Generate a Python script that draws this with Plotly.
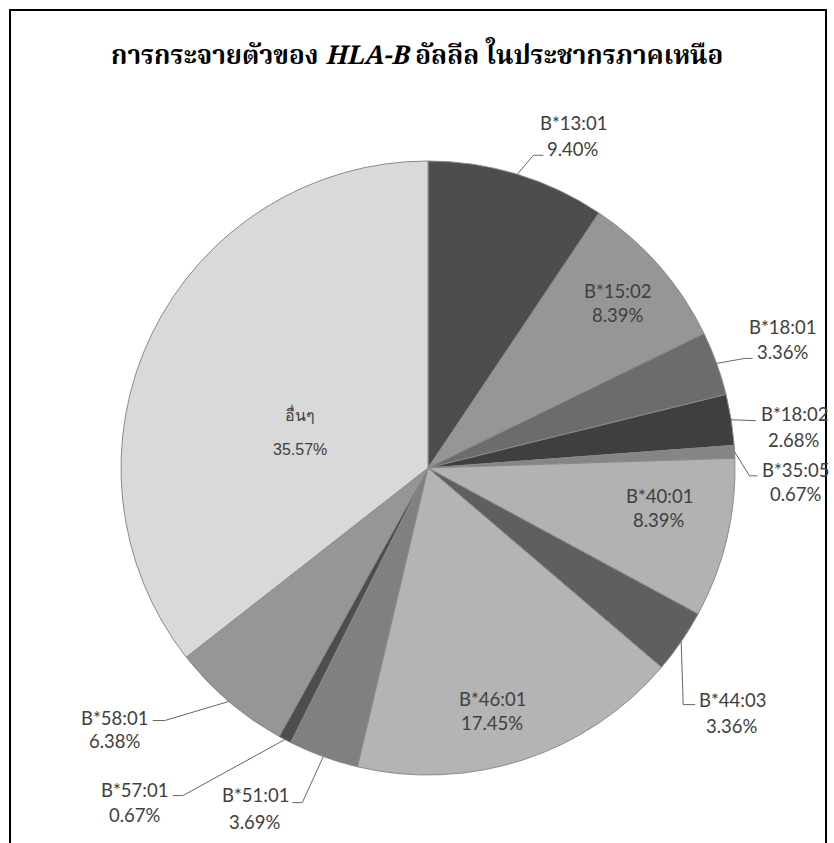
import math
import plotly.graph_objects as go

# ---- data ----
alleles = ["B*13:01", "B*15:02", "B*18:01", "B*18:02", "B*35:05", "B*40:01",
           "B*44:03", "B*46:01", "B*51:01", "B*57:01", "B*58:01", "อื่นๆ"]
percents = [9.40, 8.39, 3.36, 2.68, 0.67, 8.39, 3.36, 17.45, 3.69, 0.67, 6.38, 35.57]
percent_labels = ["9.40%", "8.39%", "3.36%", "2.68%", "0.67%", "8.39%",
                  "3.36%", "17.45%", "3.69%", "0.67%", "6.38%", "35.57%"]
slice_colors = ["#4d4d4d", "#969696", "#6c6c6c", "#3f3f3f", "#858585", "#b2b2b2",
                "#5f5f5f", "#b4b4b4", "#808080", "#4d4d4d", "#969696", "#d9d9d9"]
title_text = "<b>การกระจายตัวของ <i>HLA-B</i> อัลลีล ในประชากรภาคเหนือ</b>"

# ---- layout geometry (pixels) ----
W, H = 834, 843
CX, CY, R = 428, 468, 307

def px(x):
    return x / W

def py(y):
    return 1 - y / H

# label placement: outside labels (offsets relative to slice edge point)
outside = {
    "B*13:01": dict(t1=(56, -51), t2=(56, -25), lead=[(16, -19), (26, -19)]),
    "B*18:01": dict(t1=(66, -36), t2=(66, -11), lead=[(28, -5), (36, -5)]),
    "B*18:02": dict(t1=(63, -6), t2=(63, 20), lead=[(25, 1)]),
    "B*35:05": dict(t1=(61, 18), t2=(61, 42), lead=[(15, 24), (23, 24)]),
    "B*44:03": dict(t1=(51, 58), t2=(51, 84), lead=[(2, 63), (14, 63)]),
    "B*51:01": dict(t1=(-68, 38), t2=(-68, 65), lead=[(-21, 46), (-31, 46)]),
    "B*57:01": dict(t1=(-150, 50), t2=(-150, 75), lead=[(-102, 56), (-112, 56)]),
    "B*58:01": dict(t1=(-114, 16), t2=(-114, 39), lead=[(-64, 19), (-76, 19)]),
}
# inside labels: (angle override or None, radius fraction)
inside = {
    "B*15:02": (None, 0.82),
    "B*40:01": (99.8, 0.764),
    "B*46:01": (165.2, 0.818),
    "อื่นๆ": (286.1, 0.434),
}

fig = go.Figure(go.Pie(
    labels=alleles, values=percents, sort=False, direction="clockwise", rotation=0,
    marker=dict(colors=slice_colors, line=dict(color="#8a8a8a", width=1)),
    textinfo="none", hoverinfo="label+percent", showlegend=False,
    domain=dict(x=[px(CX - R), px(CX + R)], y=[py(CY + R), py(CY - R)]),
))

total = sum(percents)
annotations = []
shapes = []
label_font = dict(family="Lato, Carlito, 'Open Sans', sans-serif", size=18.5, color="#404040")
cum = 0.0
for name, v, pl in zip(alleles, percents, percent_labels):
    mid = (cum + v / 2) / total * 360.0
    cum += v
    a = math.radians(mid)
    ex, ey = CX + R * math.sin(a), CY - R * math.cos(a)
    if name in outside:
        o = outside[name]
        pts = [(ex, ey)] + [(ex + dx, ey + dy) for dx, dy in o["lead"]]
        path = "M " + " L ".join(f"{px(x):.5f},{py(y):.5f}" for x, y in pts)
        shapes.append(dict(type="path", path=path, xref="paper", yref="paper",
                           line=dict(color="#666666", width=1)))
        for key, txt in (("t1", name), ("t2", pl)):
            dx, dy = o[key]
            annotations.append(dict(x=px(ex + dx), y=py(ey + dy), xref="paper", yref="paper",
                                    text=txt, showarrow=False, font=label_font,
                                    xanchor="center", yanchor="middle"))
    else:
        ang, frac = inside[name]
        aa = math.radians(mid if ang is None else ang)
        lx, ly = CX + frac * R * math.sin(aa), CY - frac * R * math.cos(aa)
        if name == "อื่นๆ":
            f2 = dict(family="'Liberation Sans', Arial, sans-serif", size=16, color="#404040")
            annotations.append(dict(x=px(lx), y=py(ly - 17), xref="paper", yref="paper",
                                    text=name, showarrow=False, font=f2,
                                    xanchor="center", yanchor="middle"))
            annotations.append(dict(x=px(lx), y=py(ly + 18), xref="paper", yref="paper",
                                    text=pl, showarrow=False, font=f2,
                                    xanchor="center", yanchor="middle"))
        else:
            annotations.append(dict(x=px(lx), y=py(ly - 12), xref="paper", yref="paper",
                                    text=name, showarrow=False, font=label_font,
                                    xanchor="center", yanchor="middle"))
            annotations.append(dict(x=px(lx), y=py(ly + 12), xref="paper", yref="paper",
                                    text=pl, showarrow=False, font=label_font,
                                    xanchor="center", yanchor="middle"))

# title
annotations.append(dict(x=px(417), y=py(57), xref="paper", yref="paper", text=title_text,
                        showarrow=False, xanchor="center", yanchor="middle",
                        font=dict(family="'Noto Serif Thai', 'Noto Sans Thai', 'DejaVu Serif', serif",
                                  size=26, color="#000000")))

# chart frame
shapes.append(dict(type="rect", xref="paper", yref="paper",
                   x0=px(10), x1=px(826), y0=py(860), y1=py(10),
                   line=dict(color="#000000", width=2), layer="above"))

fig.update_layout(width=W, height=H, margin=dict(l=0, r=0, t=0, b=0),
                  paper_bgcolor="white", plot_bgcolor="white",
                  annotations=annotations, shapes=shapes)
fig.write_html("out.html")
